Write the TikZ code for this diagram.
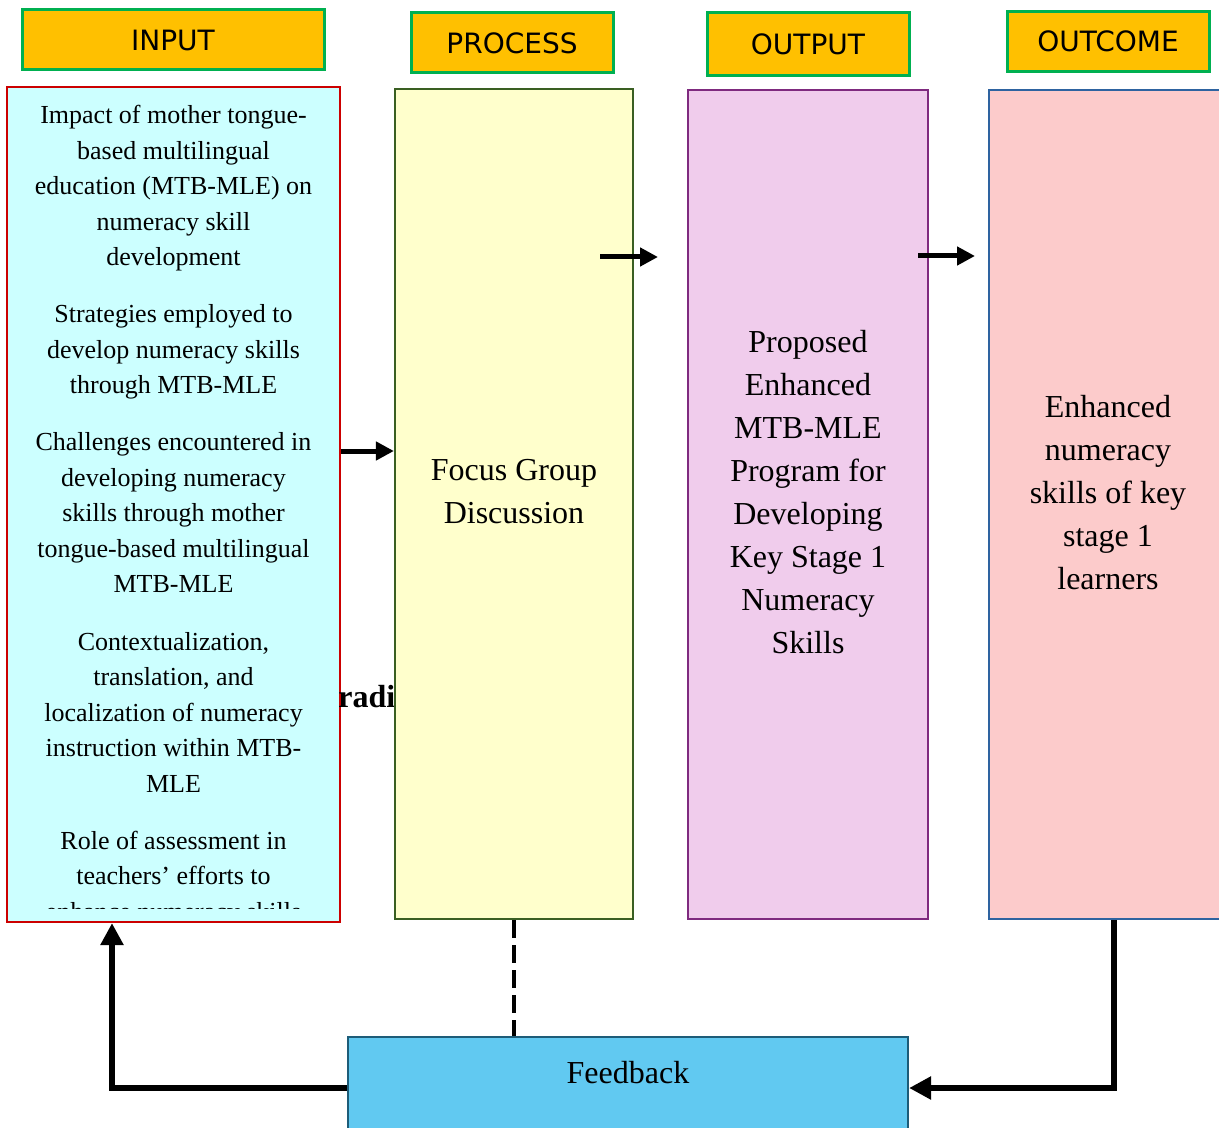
\documentclass[tikz,border=0pt]{standalone}
\usepackage{fontspec}
\setmainfont{Liberation Serif}
\newfontfamily\hdrfont{DejaVu Sans}
\usepackage{tikz}
\usetikzlibrary{positioning,arrows.meta}

\definecolor{hdrfill}{HTML}{FFC000}
\definecolor{hdrline}{HTML}{00B050}
\definecolor{infill}{HTML}{CCFFFF}
\definecolor{inline}{HTML}{CC0000}
\definecolor{procfill}{HTML}{FFFFCC}
\definecolor{procline}{HTML}{3A5F22}
\definecolor{outfill}{HTML}{F0CCEC}
\definecolor{outline}{HTML}{7F2A7F}
\definecolor{outcfill}{HTML}{FCCBCB}
\definecolor{outcline}{HTML}{2E63A0}
\definecolor{fbfill}{HTML}{61C9F1}
\definecolor{fbline}{HTML}{1D5C78}

\begin{document}
\begin{tikzpicture}[x=0.5pt,y=-0.5pt,
    hdr/.style={draw=hdrline, fill=hdrfill, line width=1.5pt, inner sep=0pt,
      minimum width=101pt, minimum height=30pt, font=\hdrfont\fontsize{14}{17}\selectfont},
    col/.style={line width=1.1pt, inner sep=0pt, minimum width=119pt, minimum height=415pt},
    txt/.style={align=center, inner sep=0pt, font=\fontsize{16}{21.5}\selectfont},
    flow/.style={line width=2.5pt, -{Triangle[length=9pt,width=9pt]}},
    back/.style={line width=3pt, -{Triangle[length=11pt,width=11pt]}}]
  \path[use as bounding box] (0,0) rectangle (1219,1128);
  \clip (0,0) rectangle (1219,1128);

  \node (inHead) [hdr, minimum width=151pt] at (173,40) {INPUT};
  \node (procHead) [hdr] at (512,43) {PROCESS};
  \node (outHead) [hdr, minimum height=31.5pt] at (808,44.5) {OUTPUT};
  \node (outcHead) [hdr] at (1108,41.5) {OUTCOME};

  \node (in) [col, draw=inline, fill=infill, minimum width=166.5pt, minimum height=417.5pt] at (173.5,504.5) {};
  \begin{scope}
    \clip (9,89) rectangle (338,908);
    \node (inText) [txt, anchor=north, font=\fontsize{13}{17.75}\selectfont] at (173.5,105)
    {Impact of mother tongue-\\based multilingual\\education (MTB-MLE) on\\numeracy skill\\development\\[10.8pt]
     Strategies employed to\\develop numeracy skills\\through MTB-MLE\\[10.8pt]
     Challenges encountered in\\developing numeracy\\skills through mother\\tongue-based multilingual\\MTB-MLE\\[10.8pt]
     Contextualization,\\translation, and\\localization of numeracy\\instruction within MTB-\\MLE\\[10.8pt]
     Role of assessment in\\teachers’ efforts to\\enhance numeracy skills};
  \end{scope}
  \node (radi) [anchor=west, inner sep=0pt, font=\bfseries\fontsize{16}{19}\selectfont] at (338,697) {radi};

  \node (proc) [col, draw=procline, fill=procfill] at (514,504) {};
  \node (procText) [txt] at (514,492) {Focus Group\\Discussion};

  \node (out) [col, draw=outline, fill=outfill, minimum width=120pt, minimum height=414.5pt] at (808,504.5) {};
  \node (outText) [txt] at (808,492) {Proposed\\Enhanced\\MTB-MLE\\Program for\\Developing\\Key Stage 1\\Numeracy\\Skills};

  \node (outc) [col, draw=outcline, fill=outcfill, minimum height=414.5pt] at (1108,504.5) {};
  \node (outcText) [txt] at (1108,493) {Enhanced\\numeracy\\skills of key\\stage 1\\learners};

  \node (fb) [col, draw=fbline, fill=fbfill, minimum width=280pt, minimum height=60pt] at (628,1097) {};
  \node (fbText) [txt] at (628,1073) {Feedback};

  \coordinate (inY) at (0,451);
  \coordinate (pA) at (600,257);
  \coordinate (pB) at (658,257);
  \coordinate (oA) at (918,256);
  \coordinate (oB) at (975,256);
  \path[flow]
    (in.east |- inY) edge (proc.west |- inY)
    (pA) edge (pB)
    (oA) edge (oB);

  \draw[line width=2pt, dash pattern=on 9pt off 3.5pt] (proc.south) -- (proc.south |- fb.north);

  \coordinate (fbY) at (0,1088);
  \coordinate (outcX) at (1114,0);
  \coordinate (inX) at (112,0);
  \draw[back] (outc.south -| outcX) |- (fb.east |- fbY);
  \draw[back] (fb.west |- fbY) -| (in.south -| inX);
\end{tikzpicture}
\end{document}
